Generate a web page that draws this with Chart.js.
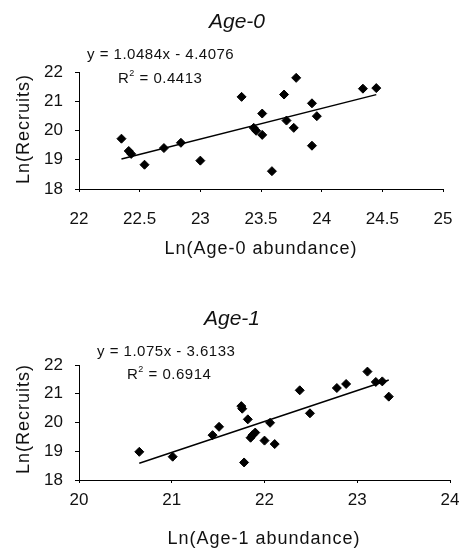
<!DOCTYPE html>
<html><head><meta charset="utf-8">
<script src="https://cdn.jsdelivr.net/npm/chart.js@4/dist/chart.umd.min.js"></script>
<style>
html,body{margin:0;padding:0;background:#fff;width:459px;height:548px;overflow:hidden;position:relative;font-family:"Liberation Sans",Arial,sans-serif;color:#111}
canvas{position:absolute;left:0}
#c0{top:0}
#c1{top:270px}
.t{position:absolute;white-space:nowrap;line-height:1}
.c{transform:translate(-50%,-50%)}
.l{transform:translate(0,-50%)}
.title{font-style:italic;font-size:21px}
.eq{font-size:15px;letter-spacing:0.5px}
.eq sup{font-size:9px;vertical-align:7px;line-height:0}
.axt{font-size:18px;letter-spacing:1px}
.yt{transform:translate(-50%,-50%) rotate(-90deg)}
</style></head>
<body>
<canvas id="c0" width="459" height="270"></canvas>
<canvas id="c1" width="459" height="278"></canvas>

<div class="t c title" style="left:237px;top:20px">Age-0</div>
<div class="t l eq" style="left:87px;top:53px">y = 1.0484x - 4.4076</div>
<div class="t l eq" style="left:118px;top:77px">R<sup>2</sup> = 0.4413</div>
<div class="t c axt" style="left:261px;top:248px">Ln(Age-0 abundance)</div>
<div class="t axt yt" style="left:23px;top:129px">Ln(Recruits)</div>

<div class="t c title" style="left:232px;top:317px">Age-1</div>
<div class="t l eq" style="left:97px;top:350px">y = 1.075x - 3.6133</div>
<div class="t l eq" style="left:127px;top:373px">R<sup>2</sup> = 0.6914</div>
<div class="t c axt" style="left:264px;top:538px">Ln(Age-1 abundance)</div>
<div class="t axt yt" style="left:23px;top:419px">Ln(Recruits)</div>

<script>
// ---- Data ----
const age0X = [22.35, 22.41, 22.43, 22.54, 22.70, 22.84, 23.00, 23.34, 23.44, 23.46, 23.51, 23.51, 23.59, 23.69, 23.71, 23.79, 23.77, 23.92, 23.92, 23.96, 24.34, 24.45];
const age0Y = [19.72, 19.30, 19.20, 18.83, 19.40, 19.58, 18.97, 21.15, 20.09, 19.99, 20.58, 19.85, 18.61, 21.23, 20.34, 21.80, 20.09, 20.93, 19.48, 20.49, 21.43, 21.45];
const age0Fit = [1.0484, -4.4076]; // slope, intercept

const age1X = [20.65, 21.01, 21.44, 21.51, 21.75, 21.76, 21.78, 21.82, 21.85, 21.87, 21.90, 22.00, 22.06, 22.11, 22.38, 22.49, 22.78, 22.88, 23.11, 23.20, 23.27, 23.34];
const age1Y = [18.98, 18.81, 19.56, 19.85, 20.57, 20.48, 18.61, 20.11, 19.47, 19.56, 19.65, 19.37, 19.99, 19.25, 21.12, 20.32, 21.20, 21.34, 21.77, 21.41, 21.43, 20.90];
const age1Fit = [1.075, -3.6133];

const age0XTicks = [22, 22.5, 23, 23.5, 24, 24.5, 25];
const age1XTicks = [20, 21, 22, 23, 24];
const yTicks = [18, 19, 20, 21, 22];

// ---- Chart building ----
const FONT = "'Liberation Sans', Arial, sans-serif";
function pts(xs, ys){ return xs.map((x,i)=>({x:x, y:ys[i]})); }
function fitLine(xs, fit){
  const lo = Math.min(...xs), hi = Math.max(...xs);
  return [{x:lo, y:fit[0]*lo+fit[1]}, {x:hi, y:fit[0]*hi+fit[1]}];
}
function makeChart(id, xs, ys, fit, xTicks, pad, xH, xPad){
  return new Chart(document.getElementById(id), {
    type: 'scatter',
    data: {
      datasets: [
        {data: pts(xs, ys), pointStyle:'rectRot', pointRadius:4.5, pointHoverRadius:4.5,
         backgroundColor:'#000', borderColor:'#000', borderWidth:1, clip:false, order:1},
        {data: fitLine(xs, fit), showLine:true, pointRadius:0, borderColor:'#000',
         borderWidth:1.5, fill:false, clip:false, order:2}
      ]
    },
    options: {
      responsive:false, animation:false, events:[],
      layout:{padding:pad},
      plugins:{legend:{display:false}, tooltip:{enabled:false}, title:{display:false}},
      scales:{
        x:{type:'linear', min:xTicks[0], max:xTicks[xTicks.length-1],
           afterBuildTicks:(s)=>{ s.ticks = xTicks.map(v=>({value:v})); },
           afterFit:(s)=>{ s.height = xH; s.paddingLeft = 0; s.paddingRight = 0; },
           grid:{display:true, drawOnChartArea:false, drawTicks:true, tickLength:3, color:'#000'},
           border:{display:true, color:'#000', width:1},
           ticks:{color:'#111', padding:xPad, font:{family:FONT, size:17}, maxRotation:0, autoSkip:false,
                  callback:(v)=>String(v)}},
        y:{type:'linear', min:yTicks[0], max:yTicks[yTicks.length-1],
           afterBuildTicks:(s)=>{ s.ticks = yTicks.map(v=>({value:v})); },
           afterFit:(s)=>{ s.width = 79; s.paddingTop = 0; s.paddingBottom = 0; },
           grid:{display:true, drawOnChartArea:false, drawTicks:true, tickLength:4, color:'#000'},
           border:{display:true, color:'#000', width:1},
           ticks:{color:'#111', padding:12, font:{family:FONT, size:17}, callback:(v)=>String(v)}}
      }
    }
  });
}
makeChart('c0', age0X, age0Y, age0Fit, age0XTicks, {top:72, right:16, left:0, bottom:0}, 81, 17);
makeChart('c1', age1X, age1Y, age1Fit, age1XTicks, {top:95, right:9, left:0, bottom:0}, 68, 7);
</script>
</body></html>
